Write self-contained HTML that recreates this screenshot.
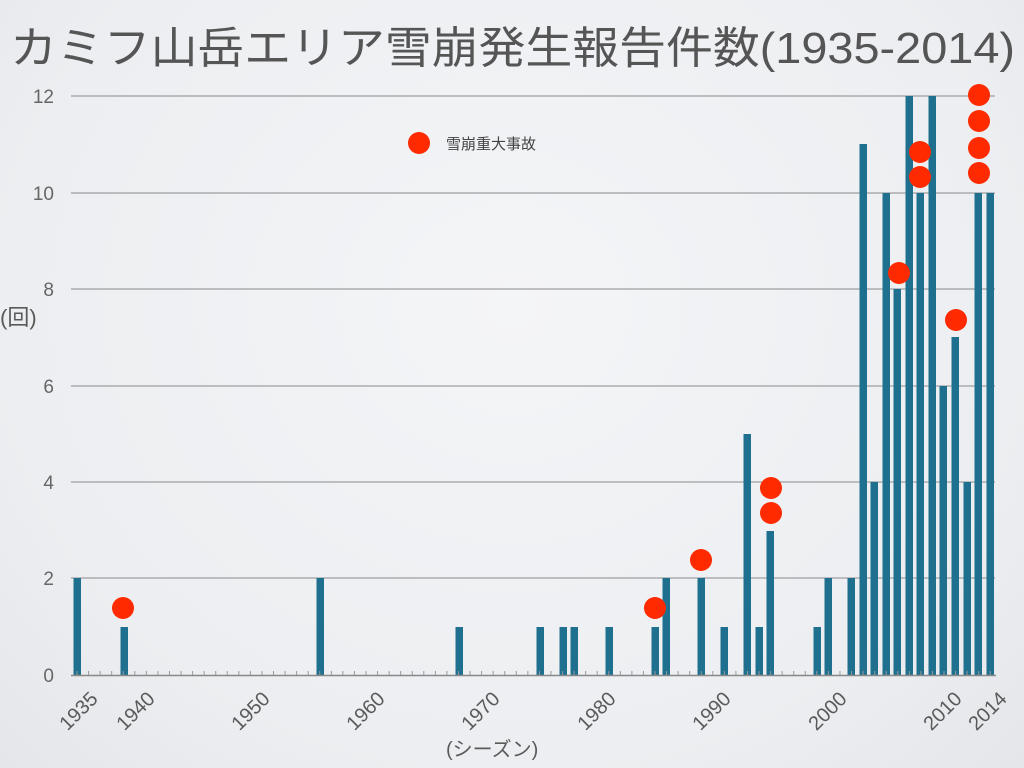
<!DOCTYPE html>
<html><head><meta charset="utf-8"><style>
html,body{margin:0;padding:0;}
body{width:1024px;height:768px;background:radial-gradient(ellipse at 50% 40%,#f4f5f7 0%,#eceef1 70%,#e4e6ea 100%);overflow:hidden;}
svg{position:absolute;left:0;top:0;}
text{font-family:"Liberation Sans","Noto Sans CJK JP",sans-serif;fill:#5a5a5a;}
</style></head><body>
<svg width="1024" height="768" viewBox="0 0 1024 768">
<text x="10" y="63" font-size="44" textLength="1005" lengthAdjust="spacingAndGlyphs" style="fill:#555">カミフ山岳エリア雪崩発生報告件数(1935-2014)</text>
<g stroke="#8a8a8a" stroke-width="1">
<line x1="71" y1="96" x2="995" y2="96"/>
<line x1="71" y1="193" x2="995" y2="193"/>
<line x1="71" y1="289" x2="995" y2="289"/>
<line x1="71" y1="386" x2="995" y2="386"/>
<line x1="71" y1="482" x2="995" y2="482"/>
<line x1="71" y1="578" x2="995" y2="578"/>
</g>
<g font-size="19" text-anchor="end" style="fill:#666">
<text x="54" y="103" style="fill:#666">12</text><text x="54" y="200" style="fill:#666">10</text><text x="54" y="296" style="fill:#666">8</text>
<text x="54" y="393" style="fill:#666">6</text><text x="54" y="489" style="fill:#666">4</text><text x="54" y="585" style="fill:#666">2</text><text x="54" y="682" style="fill:#666">0</text>
</g>
<text x="0" y="325" font-size="22">(回)</text>
<g fill="#1f6f8e">
<rect x="73.5" y="578" width="7.5" height="97"/>
<rect x="120.5" y="627" width="7.5" height="48"/>
<rect x="316.5" y="578" width="7.5" height="97"/>
<rect x="455.5" y="627" width="7.5" height="48"/>
<rect x="536.5" y="627" width="7.5" height="48"/>
<rect x="559.5" y="627" width="7.5" height="48"/>
<rect x="570.5" y="627" width="7.5" height="48"/>
<rect x="605.5" y="627" width="7.5" height="48"/>
<rect x="651.5" y="627" width="7.5" height="48"/>
<rect x="662.5" y="578" width="7.5" height="97"/>
<rect x="697.5" y="578" width="7.5" height="97"/>
<rect x="720.5" y="627" width="7.5" height="48"/>
<rect x="743.5" y="434" width="7.5" height="241"/>
<rect x="755.5" y="627" width="7.5" height="48"/>
<rect x="766.5" y="531" width="7.5" height="144"/>
<rect x="813.5" y="627" width="7.5" height="48"/>
<rect x="824.5" y="578" width="7.5" height="97"/>
<rect x="847.5" y="578" width="7.5" height="97"/>
<rect x="859.5" y="144" width="7.5" height="531"/>
<rect x="870.5" y="482" width="7.5" height="193"/>
<rect x="882.5" y="193" width="7.5" height="482"/>
<rect x="893.5" y="289" width="7.5" height="386"/>
<rect x="905.5" y="96" width="7.5" height="579"/>
<rect x="916.5" y="193" width="7.5" height="482"/>
<rect x="928.5" y="96" width="7.5" height="579"/>
<rect x="939.5" y="386" width="7.5" height="289"/>
<rect x="951.5" y="337" width="7.5" height="338"/>
<rect x="963.5" y="482" width="7.5" height="193"/>
<rect x="974.5" y="193" width="7.5" height="482"/>
<rect x="986.5" y="193" width="7.5" height="482"/>
</g>
<line x1="71" y1="675.5" x2="996" y2="675.5" stroke="#888" stroke-width="1.5"/>
<g stroke="#999" stroke-width="1" id="ticks"></g>
<g fill="#ff2a00">
<circle cx="123" cy="608" r="11"/><circle cx="655" cy="608" r="11"/><circle cx="701" cy="560" r="11"/>
<circle cx="771" cy="488" r="11"/><circle cx="771" cy="513" r="11"/><circle cx="899" cy="273" r="11"/>
<circle cx="920" cy="152" r="11"/><circle cx="920" cy="177" r="11"/><circle cx="956" cy="320" r="11"/>
<circle cx="979" cy="95" r="11"/><circle cx="979" cy="121" r="11"/><circle cx="979" cy="148" r="11"/><circle cx="979" cy="173" r="11"/>
<circle cx="419" cy="143" r="11"/>
</g>
<text x="446" y="149" font-size="15" style="fill:#444">雪崩重大事故</text>
<g font-size="20" text-anchor="end">
<text transform="translate(99,700) rotate(-45)">1935</text>
<text transform="translate(156,700) rotate(-45)">1940</text>
<text transform="translate(271,700) rotate(-45)">1950</text>
<text transform="translate(386,700) rotate(-45)">1960</text>
<text transform="translate(501,700) rotate(-45)">1970</text>
<text transform="translate(617,700) rotate(-45)">1980</text>
<text transform="translate(732,700) rotate(-45)">1990</text>
<text transform="translate(848,700) rotate(-45)">2000</text>
<text transform="translate(963,700) rotate(-45)">2010</text>
<text transform="translate(1008,700) rotate(-45)">2014</text>
</g>
<text x="446" y="756" font-size="20">(シーズン)</text>
</svg>
<script>
var g=document.getElementById('ticks'),s='';
for(var i=0;i<=79;i++){var x=77+i*11.56;s+='<line x1="'+x+'" y1="671" x2="'+x+'" y2="675"/>';}
g.innerHTML=s;
</script>
</body></html>
